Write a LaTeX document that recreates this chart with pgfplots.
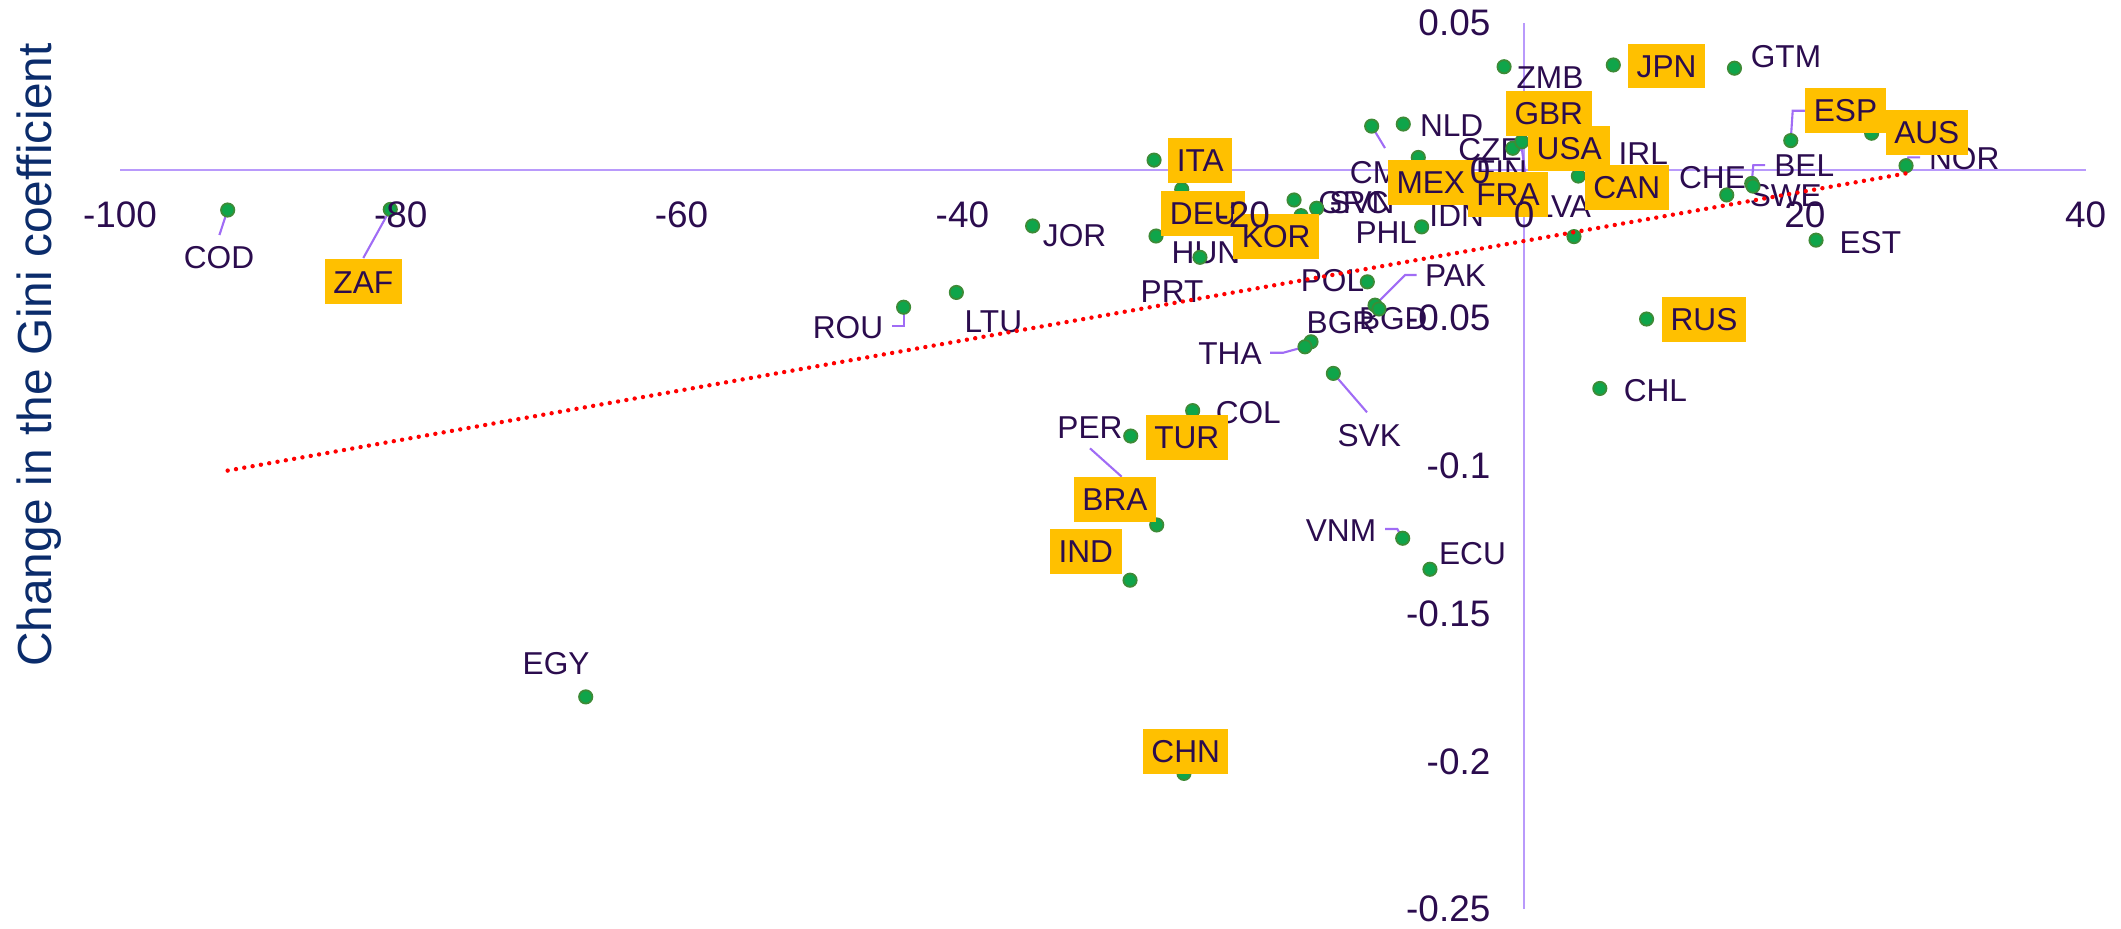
\documentclass[border=0pt]{standalone}
\usepackage{pgfplots}
\pgfplotsset{compat=1.18}
\usepackage{fontspec}
\setmainfont{Liberation Sans}
\definecolor{axpurple}{HTML}{B99AFB}
\definecolor{tickcol}{HTML}{2B0C4E}
\definecolor{titlecol}{HTML}{0B2C6B}
\definecolor{ptfill}{HTML}{0FA54A}
\definecolor{ptedge}{HTML}{3D8B37}
\definecolor{boxcol}{HTML}{FFC000}
\definecolor{leadcol}{HTML}{A06CF5}

\pgfplotsset{
  layers/mylayers/.define layer set={axis background,axis grid,axis ticks,axis lines,pre main,main,axis descriptions,axis foreground,axis tick labels}{/pgfplots/layers/standard},
}

\makeatletter
\def\pxparse#1,#2\relax{%
  \pgfmathparse{(#1-1524)/14.04}\let\pxX\pgfmathresult
  \pgfmathparse{(170.4-#2)/2954}\let\pxY\pgfmathresult
  \pgfplotspointaxisxy{\pxX}{\pxY}}
\tikzdeclarecoordinatesystem{px}{\pxparse#1\relax}
\makeatother

\tikzset{
  lab/.style={font=\fontsize{9}{10}\selectfont, text=tickcol, inner sep=0pt, text height=0.227cm, text depth=0pt, anchor=center},
  bx/.style={lab, fill=boxcol, inner xsep=0.085cm, inner ysep=0.11cm},
  ld/.style={leadcol, line width=0.6pt},
}

\begin{document}
\begin{tikzpicture}
\begin{axis}[
  set layers=mylayers,
  scale only axis, width=19.656cm, height=8.863cm,
  at={(1.20cm,0.19cm)}, anchor=south west,
  xmin=-100, xmax=40, ymin=-0.25, ymax=0.05,
  axis lines=middle,
  axis line style={-, draw=axpurple, line width=0.6pt},
  every inner x axis line/.append style={-},
  every inner y axis line/.append style={-},
  hide obscured x ticks=false, hide obscured y ticks=false,
  xtick={-100,-80,-60,-40,-20,0,20,40},
  xticklabels={-100,-80,-60,-40,-20,0,20,40},
  ytick={-0.25,-0.2,-0.15,-0.1,-0.05,0,0.05},
  yticklabels={-0.25,-0.2,-0.15,-0.1,-0.05,0,0.05},
  major tick length=0pt, tick style={draw=none},
  xticklabel style={anchor=center, yshift=-0.446cm, inner sep=0pt, font=\fontsize{10.5}{12}\selectfont, text=tickcol},
  yticklabel style={anchor=east, xshift=-0.33cm, inner sep=0pt, font=\fontsize{10.5}{12}\selectfont, text=tickcol},
  clip=false,
]
\addplot[only marks, mark=*, mark size=1.9pt, mark options={fill=ptfill, draw=ptedge, line width=0.5pt}] table {
x y
-92.33 -0.0134
-80.75 -0.0132
-66.83 -0.1782
-44.19 -0.0463
-40.43 -0.0413
-35.00 -0.0188
-26.35 0.0035
-24.38 -0.0064
-26.21 -0.0222
-23.08 -0.0294
-16.38 -0.0100
-14.77 -0.0128
-15.88 -0.0153
-10.85 0.0150
-8.60 0.0157
-7.53 0.0044
-7.29 -0.0191
-2.78 -0.0100
-11.16 -0.0377
-10.61 -0.0456
-10.33 -0.0469
-15.17 -0.0580
-15.60 -0.0597
-13.58 -0.0687
-23.60 -0.0813
-28.01 -0.0899
-27.64 -0.1085
-26.16 -0.1200
-28.06 -0.1387
-24.22 -0.2041
-8.64 -0.1245
-6.70 -0.1350
-1.42 0.0351
-0.80 0.0075
-0.16 0.0097
1.50 0.0177
-2.07 -0.0066
2.56 0.0076
5.27 0.0069
3.87 -0.0019
3.56 -0.0224
6.36 0.0357
8.73 -0.0503
5.40 -0.0738
14.99 0.0346
14.44 -0.0083
16.22 -0.0044
16.31 -0.0053
19.00 0.0101
20.80 -0.0236
24.76 0.0126
27.21 0.0016
};
% leader lines
\draw[ld] (px cs:227.6,210) -- (px cs:219.4,235);
\draw[ld] (px cs:390.3,209.3) -- (px cs:363.3,258);
\draw[ld] (px cs:903.6,307.3) -- (px cs:903.6,326) -- (px cs:891.5,326);
\draw[ld] (px cs:1371.7,126) -- (px cs:1385,148);
\draw[ld] (px cs:1512.7,148.3) -- (px cs:1522,150) -- (px cs:1525,172);
\draw[ld] (px cs:1751.7,183.3) -- (px cs:1753.3,165) -- (px cs:1765,165);
\draw[ld] (px cs:1790.7,140.7) -- (px cs:1792.7,110.7) -- (px cs:1805,110.7);
\draw[ld] (px cs:1906,165.7) -- (px cs:1908.3,157.3) -- (px cs:1920,157.3);
\draw[ld] (px cs:1375,305) -- (px cs:1405,275) -- (px cs:1416.7,275);
\draw[ld] (px cs:1270,352.7) -- (px cs:1283.3,352.7) -- (px cs:1305,346.7);
\draw[ld] (px cs:1333.3,373.3) -- (px cs:1367,412.3);
\draw[ld] (px cs:1090,448.3) -- (px cs:1121.7,476.7);
\draw[ld] (px cs:1385,529) -- (px cs:1397.3,529) -- (px cs:1402.7,538.3);
% plain labels
\node[lab] at (px cs:219,257.5) {COD};
\node[lab] at (px cs:556.1,663.3) {EGY};
\node[lab] at (px cs:848,326.7) {ROU};
\node[lab] at (px cs:993.4,321) {LTU};
\node[lab] at (px cs:1074.6,234.7) {JOR};
\node[lab] at (px cs:1206,252) {HUN};
\node[lab] at (px cs:1172,291.3) {PRT};
\node[lab] at (px cs:1353.5,201.7) {GRC};
\node[lab] at (px cs:1362,201.7) {SVN};
\node[lab] at (px cs:1386,172.5) {CMR};
\node[lab] at (px cs:1386.3,232.5) {PHL};
\node[lab] at (px cs:1456.7,215) {IDN};
\node[lab] at (px cs:1451.7,125) {NLD};
\node[lab] at (px cs:1490,149) {CZE};
\node[lab] at (px cs:1501.5,171.5) {FIN};
\node[lab] at (px cs:1550,76.7) {ZMB};
\node[lab] at (px cs:1786,55.8) {GTM};
\node[lab] at (px cs:1643.3,153.3) {IRL};
\node[lab] at (px cs:1563.3,205.8) {LVA};
\node[lab] at (px cs:1712.5,176.7) {CHE};
\node[lab] at (px cs:1804.2,165) {BEL};
\node[lab] at (px cs:1785.8,195) {SWE};
\node[lab] at (px cs:1964.2,158.3) {NOR};
\node[lab] at (px cs:1870.3,241.7) {EST};
\node[lab] at (px cs:1655.4,390) {CHL};
\node[lab] at (px cs:1332.5,280) {POL};
\node[lab] at (px cs:1455.5,275) {PAK};
\node[lab] at (px cs:1393.3,318.3) {BGD};
\node[lab] at (px cs:1341,321.7) {BGR};
\node[lab] at (px cs:1230,353.3) {THA};
\node[lab] at (px cs:1369.2,435) {SVK};
\node[lab] at (px cs:1248.3,412.5) {COL};
\node[lab] at (px cs:1090,427) {PER};
\node[lab] at (px cs:1341,530) {VNM};
\node[lab] at (px cs:1472.5,553.3) {ECU};
% highlighted labels
\begin{pgfonlayer}{axis foreground}
\node[bx] at (px cs:363.3,281.7) {ZAF};
\node[bx] at (px cs:1200.2,160.2) {ITA};
\node[bx] at (px cs:1203.3,213.3) {DEU};
\node[bx] at (px cs:1276.2,236.5) {KOR};
\node[bx] at (px cs:1430.8,182.5) {MEX};
\node[bx] at (px cs:1508,194.2) {FRA};
\node[bx] at (px cs:1548.8,113.5) {GBR};
\node[bx] at (px cs:1569.2,148.5) {USA};
\node[bx] at (px cs:1666.6,65.8) {JPN};
\node[bx] at (px cs:1626.7,187.5) {CAN};
\node[bx] at (px cs:1845.5,110.5) {ESP};
\node[bx] at (px cs:1926.8,132.5) {AUS};
\node[bx] at (px cs:1704,319.5) {RUS};
\node[bx] at (px cs:1186.8,437.5) {TUR};
\node[bx] at (px cs:1115,499.5) {BRA};
\node[bx] at (px cs:1085.8,551.3) {IND};
\node[bx] at (px cs:1185.7,751.2) {CHN};
\end{pgfonlayer}
% trend line
\addplot[on layer=axis descriptions, red, line width=1.25pt, line cap=round, dash pattern=on 0pt off 2.4pt] coordinates {(-92.33,-0.1016) (27.21,-0.0010)};
% axis title
\node[rotate=90, anchor=base, font=\fontsize{13.6}{16}\selectfont, text=titlecol] at (px cs:51,355) {Change in the Gini coefficient};
\end{axis}
\pgfresetboundingbox
\path[use as bounding box] (0,0) rectangle (21.21cm,9.28cm);
\end{tikzpicture}
\end{document}
